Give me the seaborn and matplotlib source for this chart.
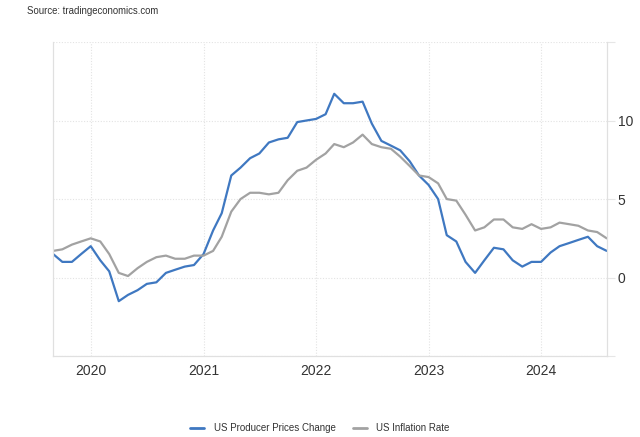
import numpy as np
import pandas as pd
import matplotlib
matplotlib.use("Agg")
from matplotlib import pyplot as plt
import matplotlib.dates as mdates
import seaborn as sns

# monthly, Sep 2019 .. Aug 2024 (YoY %)
months = pd.date_range("2019-09-01", periods=60, freq="MS")

ppi = [1.5, 1.0, 1.0, 1.5, 2.0, 1.1, 0.4, -1.5, -1.1, -0.8, -0.4, -0.3, 0.3, 0.5, 0.7, 0.8,
       1.5, 3.0, 4.1, 6.5, 7.0, 7.6, 7.9, 8.6, 8.8, 8.9, 9.9, 10.0,
       10.1, 10.4, 11.7, 11.1, 11.1, 11.2, 9.8, 8.7, 8.4, 8.1, 7.4, 6.5,
       5.9, 5.0, 2.7, 2.3, 1.0, 0.3, 1.1, 1.9, 1.8, 1.1, 0.7, 1.0,
       1.0, 1.6, 2.0, 2.2, 2.4, 2.6, 2.0, 1.7]

cpi = [1.7, 1.8, 2.1, 2.3, 2.5, 2.3, 1.5, 0.3, 0.1, 0.6, 1.0, 1.3, 1.4, 1.2, 1.2, 1.4,
       1.4, 1.7, 2.6, 4.2, 5.0, 5.4, 5.4, 5.3, 5.4, 6.2, 6.8, 7.0,
       7.5, 7.9, 8.5, 8.3, 8.6, 9.1, 8.5, 8.3, 8.2, 7.7, 7.1, 6.5,
       6.4, 6.0, 5.0, 4.9, 4.0, 3.0, 3.2, 3.7, 3.7, 3.2, 3.1, 3.4,
       3.1, 3.2, 3.5, 3.4, 3.3, 3.0, 2.9, 2.5]

series_names = ["US Producer Prices Change", "US Inflation Rate"]
colors = ["#3f78c1", "#a2a2a2"]
year_ticks = ["2020", "2021", "2022", "2023", "2024"]

df = pd.DataFrame({"date": list(months) * 2,
                   "value": ppi + cpi,
                   "series": [series_names[0]] * 60 + [series_names[1]] * 60})

sns.set_style("white")
plt.rcParams["font.family"] = ["Liberation Sans", "DejaVu Sans"]

fig = plt.figure(figsize=(6.4, 4.37), dpi=100)
ax = fig.add_axes([0.083, 0.185, 0.865, 0.719])

sns.lineplot(data=df, x="date", y="value", hue="series", palette=colors,
             linewidth=1.6, ax=ax, legend=False)
for ln in ax.lines:
    ln.set_solid_joinstyle("round")
    ln.set_solid_capstyle("round")

ax.set_xlim(months[0], months[-1])
ax.set_ylim(-5, 15)

ax.yaxis.tick_right()
ax.set_yticks([-5, 0, 5, 10, 15])
ax.set_yticklabels(["", "0", "5", "10", ""])
ax.tick_params(axis="y", length=6, color="#e6e6e6", labelsize=10, labelcolor="#333333", pad=2)

xt = [pd.Timestamp(f"{y}-01-01") for y in year_ticks]
ax.set_xticks(xt)
ax.set_xticklabels(year_ticks)
ax.tick_params(axis="x", length=0, labelsize=10, labelcolor="#333333", pad=6)

ax.grid(True, color="#e3e3e3", linestyle=(0, (1, 1.5)), linewidth=0.8)
for s in ["left", "right", "bottom"]:
    ax.spines[s].set_color("#e0e0e0")
    ax.spines[s].set_linewidth(0.9)
ax.spines["top"].set_visible(False)
ax.set_xlabel("")
ax.set_ylabel("")

fig.text(0.042, 0.967, "Source: tradingeconomics.com", fontsize=6.9, color="#333333")

handles = [plt.Line2D([], [], color=c, linewidth=2) for c in colors]
fig.legend(handles, series_names, loc="center", bbox_to_anchor=(0.5, 0.02),
           ncol=2, frameon=False, fontsize=7, handlelength=1.4, handletextpad=1.0,
           columnspacing=1.8, labelcolor="#333333")

fig.savefig("out.png", dpi=100)
